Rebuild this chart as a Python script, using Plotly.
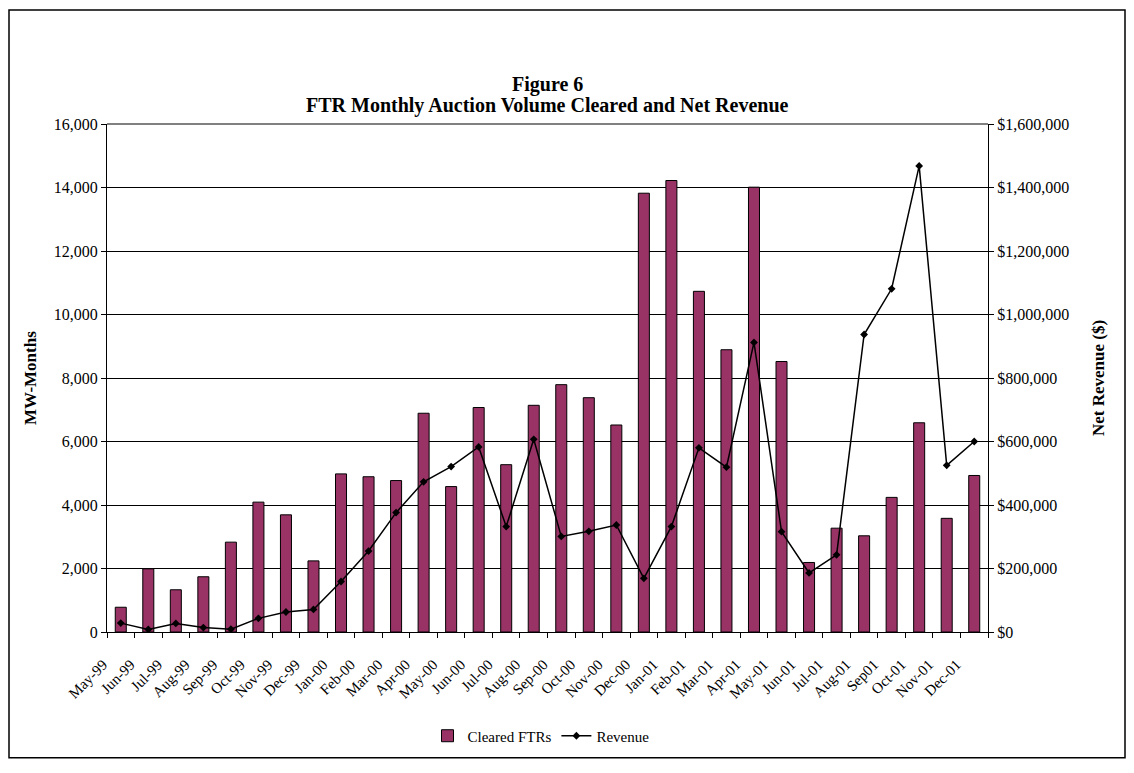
import plotly.graph_objects as go

# monthly FTR auction results, May-99 .. Dec-01
months = ["May-99", "Jun-99", "Jul-99", "Aug-99", "Sep-99", "Oct-99", "Nov-99", "Dec-99",
          "Jan-00", "Feb-00", "Mar-00", "Apr-00", "May-00", "Jun-00", "Jul-00", "Aug-00",
          "Sep-00", "Oct-00", "Nov-00", "Dec-00", "Jan-01", "Feb-01", "Mar-01", "Apr-01",
          "May-01", "Jun-01", "Jul-01", "Aug-01", "Sep01", "Oct-01", "Nov-01", "Dec-01"]

cleared_ftrs = [780, 1990, 1330, 1740, 2830, 4090, 3690, 2240,
                4980, 4890, 4770, 6890, 4580, 7070, 5270, 7140,
                7790, 7380, 6520, 13820, 14220, 10730, 8890, 14010,
                8520, 2190, 3270, 3030, 4240, 6590, 3580, 4930]

revenue = [28000, 8000, 27000, 14000, 9000, 43000, 63000, 71000,
           159000, 255000, 376000, 473000, 521000, 583000, 332000, 607000,
           301000, 317000, 337000, 169000, 332000, 580000, 519000, 912000,
           316000, 186000, 243000, 937000, 1081000, 1468000, 525000, 600000]

x_pos = list(range(len(months)))
serif = "Liberation Serif"

# figure is drawn inside the page's 8px body margin
W, H = 1118, 757
L, R, T, B = 99, 138, 116, 128
pw, ph = W - L - R, H - T - B


def px(x):
    return (x - L) / pw


def py(y):
    return (H - B - y) / ph


fig = go.Figure()

fig.add_trace(go.Bar(x=x_pos, y=cleared_ftrs, name="Cleared FTRs", width=0.4,
                     marker=dict(color="#993366", line=dict(color="black", width=1))))

fig.add_trace(go.Scatter(x=x_pos, y=revenue, name="Revenue", yaxis="y2",
                         mode="lines+markers",
                         line=dict(color="black", width=1.5),
                         marker=dict(symbol="diamond", size=6, color="black")))

# labels sit on the category boundaries, like the original
tickvals = [i - 0.5 for i in range(len(months) + 1)]
ticktext = months + [""]

fig.update_layout(
    width=W, height=H,
    margin=dict(l=L, r=R, t=T, b=B),
    paper_bgcolor="white", plot_bgcolor="white",
    font=dict(family=serif, size=15, color="black"),
    xaxis=dict(range=[-0.5, len(months) - 0.5], tickvals=tickvals, ticktext=ticktext,
               tickangle=-45, ticks="outside", ticklen=5, tickcolor="black",
               ticklabelstandoff=12, ticklabelshift=-4,
               showline=True, linecolor="black", linewidth=1, showgrid=False,
               zeroline=False, tickfont=dict(size=15)),
    yaxis=dict(range=[0, 16000], dtick=2000, tickformat=",", ticks="outside", ticklen=5,
               tickcolor="black", showline=True, linecolor="black", linewidth=1,
               showgrid=True, gridcolor="black", gridwidth=1, zeroline=False,
               tickfont=dict(size=16)),
    yaxis2=dict(range=[0, 1600000], dtick=200000, tickformat=",", tickprefix="$",
                overlaying="y", side="right", ticks="outside", ticklen=5, tickcolor="black",
                showline=True, linecolor="black", linewidth=1, showgrid=False,
                zeroline=False, tickfont=dict(size=16)),
    legend=dict(orientation="h", x=px(533), xanchor="center", y=py(734), yanchor="middle",
                font=dict(size=15), bgcolor="rgba(0,0,0,0)"),
    showlegend=True,
)

# title lines
fig.add_annotation(text="<b>Figure 6</b>", xref="paper", yref="paper",
                   x=0.5, y=py(76), xanchor="center", yanchor="middle",
                   showarrow=False, font=dict(family=serif, size=20))
fig.add_annotation(text="<b>FTR Monthly Auction Volume Cleared and Net Revenue</b>",
                   xref="paper", yref="paper", x=0.5, y=py(97),
                   xanchor="center", yanchor="middle",
                   showarrow=False, font=dict(family=serif, size=20))

# axis titles
fig.add_annotation(text="<b>MW-Months</b>", xref="paper", yref="paper",
                   x=px(22), y=0.5, xanchor="center", yanchor="middle",
                   textangle=-90, showarrow=False, font=dict(family=serif, size=17))
fig.add_annotation(text="<b>Net Revenue ($)</b>", xref="paper", yref="paper",
                   x=px(1090), y=0.5, xanchor="center", yanchor="middle",
                   textangle=-90, showarrow=False, font=dict(family=serif, size=17))

# grey top edge of the plot area and the outer frame
fig.add_shape(type="line", xref="paper", yref="paper", x0=0, x1=1, y0=1, y1=1,
              line=dict(color="#808080", width=2))
fig.add_shape(type="rect", xref="paper", yref="paper",
              x0=px(1), x1=px(1117), y0=py(756), y1=py(1),
              line=dict(color="black", width=1.5))

fig.write_html("out.html")
